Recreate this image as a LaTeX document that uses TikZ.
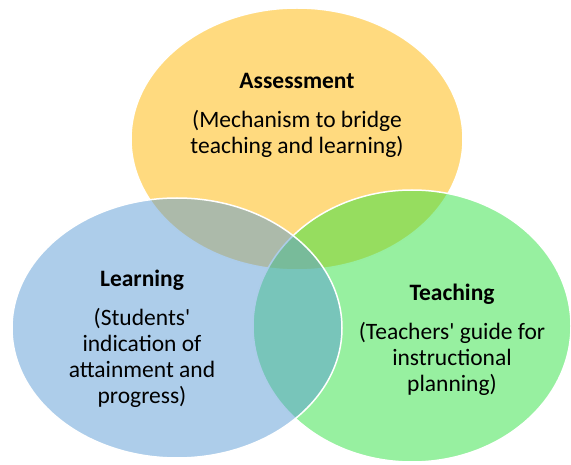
\documentclass[tikz,border=0pt]{standalone}
\usepackage{fontspec}
\setmainfont{Carlito}
\usepackage{xcolor}
\usepackage{tikz}
\usetikzlibrary{positioning}
\definecolor{assessYellow}{RGB}{255,182,0}
\definecolor{teachGreen}{RGB}{47,225,65}
\definecolor{learnBlue}{RGB}{91,155,213}

\begin{document}
\begin{tikzpicture}[x=1pt, y=1pt,
	set/.style={draw=white, line width=1.5pt, fill opacity=0.5},
	title/.style={font=\fontsize{23.5}{26}\selectfont\bfseries, inner sep=0pt, text height=16pt, text depth=5pt},
	desc/.style={font=\fontsize{23.5}{26}\selectfont, align=center, inner sep=0pt}]
	\useasboundingbox (0,0) rectangle (571,464);
	% the three sets
	\draw[set, fill=assessYellow] (297,325) ellipse [x radius=166, y radius=131];
	\draw[set, fill=teachGreen] (412,138) ellipse [x radius=159, y radius=136];
	\draw[set, fill=learnBlue] (177,136) ellipse [x radius=165, y radius=130];
	% assessment
	\node[title] (assess) at (297,381) {Assessment};
	\node[desc, below=16pt of assess] (assessTxt) {(Mechanism to bridge\\teaching and learning)};
	% learning
	\node[title] (learn) at (142,183) {Learning};
	\node[desc, below=16pt of learn] (learnTxt) {(Students\textquotesingle\\indication of\\attainment and\\progress)};
	% teaching
	\node[title] (teach) at (452,169) {Teaching};
	\node[desc, below=16pt of teach] (teachTxt) {(Teachers\textquotesingle{} guide for\\instructional\\planning)};
\end{tikzpicture}
\end{document}
